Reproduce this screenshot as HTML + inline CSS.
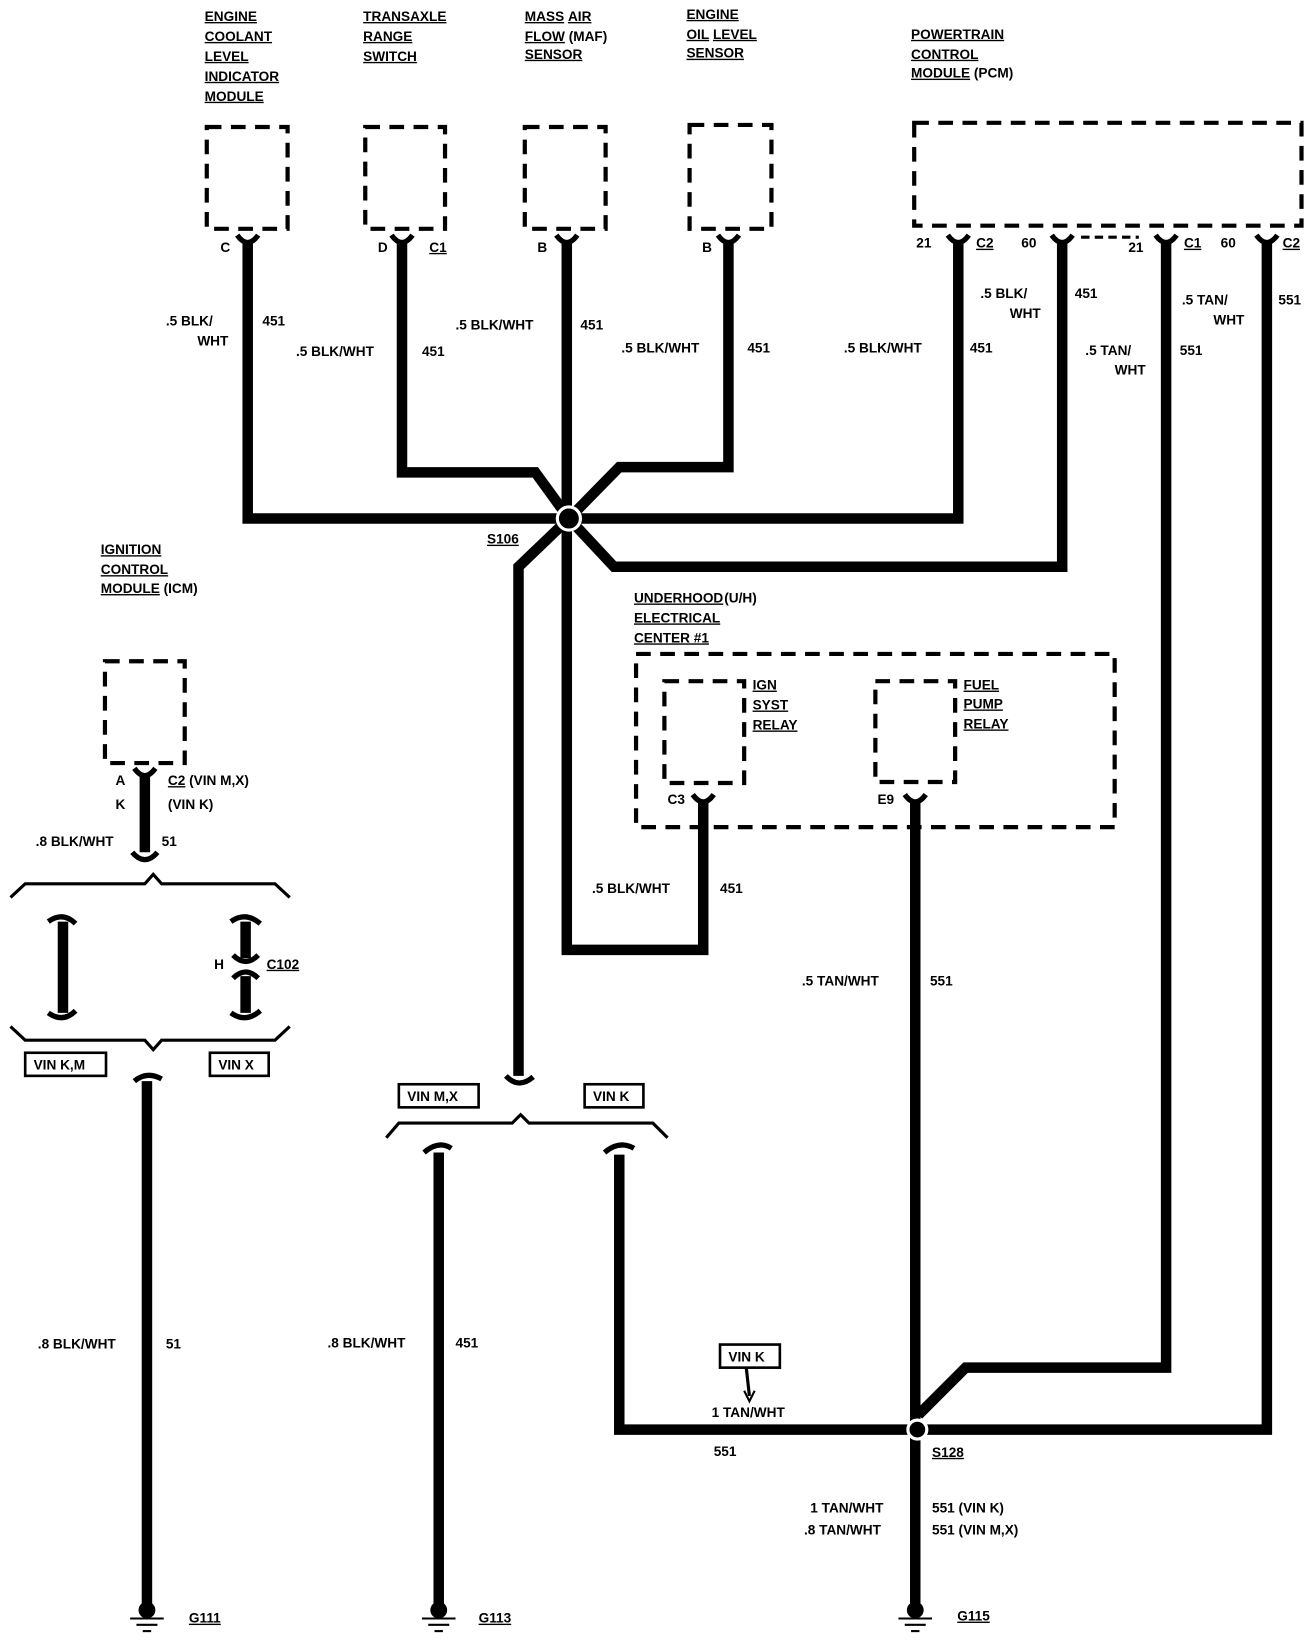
<!DOCTYPE html>
<html><head><meta charset="utf-8"><style>
html,body{margin:0;padding:0;background:#fff;}
svg{display:block}
text{font-family:"Liberation Sans",sans-serif;font-weight:bold;font-size:13px;fill:#000}
.u{text-decoration:underline}
</style></head><body>
<svg width="1312" height="1650" viewBox="0 0 1250 1572" xmlns="http://www.w3.org/2000/svg">
<defs>
<g id="cup"><path d="M-10,-8 Q0,6 10,-8" fill="none" stroke="#000" stroke-width="5"/></g>
<g id="gnd"><circle cx="0" cy="0" r="8" fill="#000"/><line x1="-16" y1="8" x2="16" y2="8" stroke="#000" stroke-width="2"/><line x1="-10" y1="14" x2="10" y2="14" stroke="#000" stroke-width="2"/><line x1="-4" y1="20" x2="4" y2="20" stroke="#000" stroke-width="2"/></g>
</defs>
<g fill="none" stroke="#000" stroke-width="4" stroke-dasharray="14,9">
<rect x="197" y="121" width="77" height="97"/>
<rect x="348" y="121" width="76" height="97"/>
<rect x="500" y="121" width="77" height="97"/>
<rect x="657" y="119" width="78" height="99"/>
<rect x="871" y="117" width="369" height="98"/>
<rect x="100" y="630" width="76" height="97"/>
<rect x="606" y="623" width="456" height="165"/>
<rect x="633" y="649" width="76" height="97"/>
<rect x="834" y="649" width="76" height="96"/>
</g>
<g fill="none" stroke="#000" stroke-width="10" stroke-linejoin="miter">
<polyline points="236,232 236,494 913,494 913,232"/>
<polyline points="383,232 383,450 510,450 542,494"/>
<line x1="540" y1="232" x2="540" y2="494"/>
<polyline points="694,232 694,445 590,445 542,494"/>
<polyline points="1012,232 1012,540 585,540 542,494"/>
<polyline points="542,494 494,540 494,1025"/>
<polyline points="540,494 540,905 670,905 670,765"/>
<polyline points="1111,232 1111,1303 920,1303 875,1348"/>
<polyline points="1207,232 1207,1362 590,1362 590,1100"/>
<line x1="872" y1="765" x2="872" y2="1530"/>
<line x1="138" y1="738" x2="138" y2="812"/>
<line x1="140" y1="1030" x2="140" y2="1530"/>
<line x1="418" y1="1098" x2="418" y2="1530"/>
<line x1="60" y1="878" x2="60" y2="965"/>
<line x1="234" y1="878" x2="234" y2="913"/>
<line x1="234" y1="930" x2="234" y2="965"/>
</g>
<g fill="none" stroke="#000" stroke-width="5">
<use href="#cup" x="236" y="232"/><use href="#cup" x="383" y="232"/><use href="#cup" x="540" y="232"/><use href="#cup" x="694" y="232"/>
<use href="#cup" x="913" y="232"/><use href="#cup" x="1012" y="232"/><use href="#cup" x="1111" y="232"/><use href="#cup" x="1207" y="232"/>
<use href="#cup" x="138" y="740"/><use href="#cup" x="670" y="765"/><use href="#cup" x="872" y="765"/>
<path d="M126,812 Q138,826 150,812"/>
<path d="M46,878 Q60,868 72,880"/><path d="M46,965 Q60,975 72,963"/>
<path d="M220,878 Q234,868 248,880"/><path d="M220,965 Q234,975 248,963"/>
<path d="M222,910 Q234,922 246,910"/><path d="M222,932 Q234,920 246,932"/>
<path d="M128,1030 Q140,1020 154,1028"/>
<path d="M482,1025 Q494,1038 508,1026"/>
<path d="M404,1098 Q418,1086 430,1094"/><path d="M576,1098 Q590,1086 604,1094"/>
</g>
<g fill="none" stroke="#000" stroke-width="3">
<path d="M10,855 L24,842 L138,842 L146,833 L154,842 L262,842 L276,855"/>
<path d="M10,978 L24,991 L138,991 L146,1000 L154,991 L262,991 L276,978"/>
<path d="M368,1084 L380,1070 L488,1070 L496,1062 L504,1070 L622,1070 L636,1084"/>
<polyline points="711,1303 714,1330"/>
</g>
<path d="M709,1325 L714,1335 L719,1325" fill="none" stroke="#000" stroke-width="2"/>
<g fill="none" stroke="#000" stroke-width="2.5">
<rect x="24" y="1003" width="77" height="22"/><rect x="200" y="1003" width="56" height="22"/>
<rect x="380" y="1033" width="76" height="22"/><rect x="557" y="1033" width="56" height="22"/>
<rect x="686" y="1281" width="57" height="22"/>
</g>
<circle cx="542" cy="494" r="11" fill="#000" stroke="#fff" stroke-width="3"/>
<circle cx="874" cy="1362" r="9" fill="#000" stroke="#fff" stroke-width="3"/>
<use href="#gnd" x="140" y="1534"/><use href="#gnd" x="418" y="1534"/><use href="#gnd" x="872" y="1534"/>

<text class="u" x="195" y="20">ENGINE</text><text class="u" x="195" y="39">COOLANT</text><text class="u" x="195" y="58">LEVEL</text><text class="u" x="195" y="77">INDICATOR</text><text class="u" x="195" y="96">MODULE</text>
<text class="u" x="346" y="20">TRANSAXLE</text><text class="u" x="346" y="39">RANGE</text><text class="u" x="346" y="58">SWITCH</text>
<text x="500" y="20"><tspan class="u">MASS</tspan> <tspan class="u">AIR</tspan></text><text x="500" y="39"><tspan class="u">FLOW</tspan> (MAF)</text><text class="u" x="500" y="56">SENSOR</text>
<text class="u" x="654" y="18">ENGINE</text><text x="654" y="37"><tspan class="u">OIL</tspan> <tspan class="u">LEVEL</tspan></text><text class="u" x="654" y="55">SENSOR</text>
<text class="u" x="868" y="37">POWERTRAIN</text><text class="u" x="868" y="56">CONTROL</text><text x="868" y="74"><tspan class="u">MODULE</tspan> (PCM)</text>
<text x="210" y="240">C</text><text x="360" y="240">D</text><text class="u" x="409" y="240">C1</text><text x="512" y="240">B</text><text x="669" y="240">B</text>
<text x="873" y="236">21</text><text class="u" x="930" y="236">C2</text><text x="973" y="236">60</text><text x="1075" y="240">21</text><text class="u" x="1128" y="236">C1</text><text x="1163" y="236">60</text><text class="u" x="1222" y="236">C2</text>
<path d="M1030,226 H1085" stroke="#000" stroke-width="3" stroke-dasharray="8,5"/>
<text x="158" y="310">.5 BLK/</text><text x="188" y="329">WHT</text><text x="250" y="310">451</text>
<text x="282" y="339">.5 BLK/WHT</text><text x="402" y="339">451</text>
<text x="434" y="314">.5 BLK/WHT</text><text x="553" y="314">451</text>
<text x="592" y="336">.5 BLK/WHT</text><text x="712" y="336">451</text>
<text x="804" y="336">.5 BLK/WHT</text><text x="924" y="336">451</text>
<text x="934" y="284">.5 BLK/</text><text x="962" y="303">WHT</text><text x="1024" y="284">451</text>
<text x="1034" y="338">.5 TAN/</text><text x="1062" y="357">WHT</text><text x="1124" y="338">551</text>
<text x="1126" y="290">.5 TAN/</text><text x="1156" y="309">WHT</text><text x="1218" y="290">551</text>
<text class="u" x="464" y="518">S106</text>
<text class="u" x="96" y="528">IGNITION</text><text class="u" x="96" y="547">CONTROL</text><text x="96" y="565"><tspan class="u">MODULE</tspan> (ICM)</text>
<text x="110" y="748">A</text><text x="110" y="771">K</text><text x="160" y="748"><tspan class="u">C2</tspan> (VIN M,X)</text><text x="160" y="771">(VIN K)</text>
<text x="34" y="806">.8 BLK/WHT</text><text x="154" y="806">51</text>
<text x="204" y="923">H</text><text class="u" x="254" y="923">C102</text>
<text x="32" y="1019">VIN K,M</text><text x="208" y="1019">VIN X</text>
<text x="388" y="1049">VIN M,X</text><text x="565" y="1049">VIN K</text>
<text class="u" x="604" y="574">UNDERHOOD</text><text x="690" y="574">(U/H)</text><text class="u" x="604" y="593">ELECTRICAL</text><text class="u" x="604" y="612">CENTER #1</text>
<text class="u" x="717" y="657">IGN</text><text class="u" x="717" y="676">SYST</text><text class="u" x="717" y="695">RELAY</text>
<text class="u" x="918" y="657">FUEL</text><text class="u" x="918" y="675">PUMP</text><text class="u" x="918" y="694">RELAY</text>
<text x="636" y="766">C3</text><text x="836" y="766">E9</text>
<text x="564" y="851">.5 BLK/WHT</text><text x="686" y="851">451</text>
<text x="764" y="939">.5 TAN/WHT</text><text x="886" y="939">551</text>
<text x="36" y="1285">.8 BLK/WHT</text><text x="158" y="1285">51</text>
<text x="312" y="1284">.8 BLK/WHT</text><text x="434" y="1284">451</text>
<text x="694" y="1297">VIN K</text>
<text x="678" y="1350">1 TAN/WHT</text><text x="680" y="1387">551</text><text class="u" x="888" y="1388">S128</text>
<text x="772" y="1441">1 TAN/WHT</text><text x="888" y="1441">551 (VIN K)</text>
<text x="766" y="1462">.8 TAN/WHT</text><text x="888" y="1462">551 (VIN M,X)</text>
<text class="u" x="180" y="1546">G111</text><text class="u" x="456" y="1546">G113</text><text class="u" x="912" y="1544">G115</text>
</svg>
</body></html>
